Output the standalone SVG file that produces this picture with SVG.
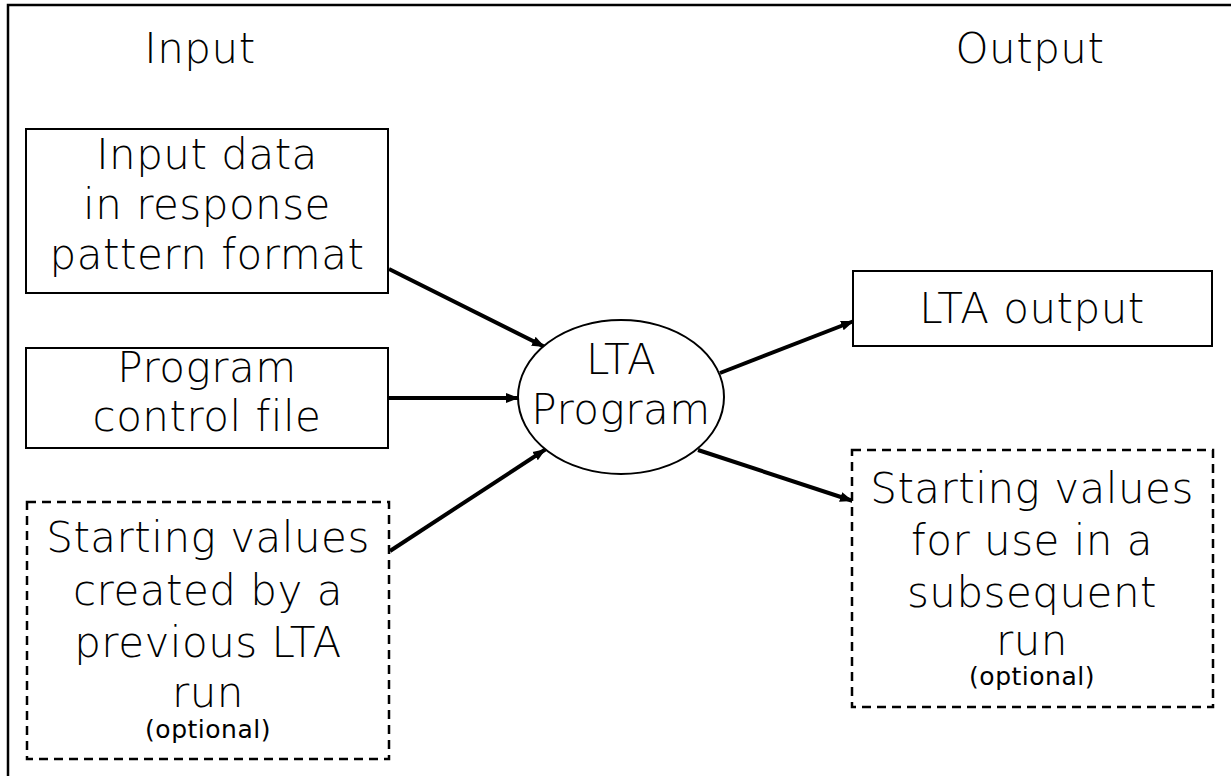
<svg xmlns="http://www.w3.org/2000/svg" width="1231" height="776" viewBox="0 0 1231 776">
  <style>
    text { font-family: "DejaVu Sans", "Liberation Sans", sans-serif; font-weight: 200; fill: #000; text-anchor: middle; font-size: 42px; letter-spacing: 0.5px; }
    .small { font-size: 25px; letter-spacing: 0.5px; font-weight: normal; }
    .box { fill: #fff; stroke: #000; stroke-width: 2; }
    .dash { fill: #fff; stroke: #000; stroke-width: 2.5; stroke-dasharray: 9 6; }
    .conn { stroke: #000; stroke-width: 4; fill: none; marker-end: url(#arr); }
  </style>
  <defs>
    <marker id="arr" markerUnits="userSpaceOnUse" markerWidth="14" markerHeight="12" refX="13" refY="6" orient="auto">
      <path d="M0,1 L13,6 L0,11 Z" fill="#000"/>
    </marker>
  </defs>
  <rect x="0" y="0" width="1231" height="776" fill="#fff"/>
  <rect x="8" y="5" width="1240" height="800" fill="none" stroke="#000" stroke-width="2.5"/>

  <g id="heading-input"><text x="200" y="63">Input</text></g>
  <g id="heading-output"><text x="1030" y="63">Output</text></g>

  <g id="connectors">
    <line class="conn" x1="389" y1="269" x2="545" y2="347"/>
    <line class="conn" x1="389" y1="398" x2="519" y2="398"/>
    <line class="conn" x1="390" y1="551" x2="546" y2="449"/>
    <line class="conn" x1="720" y1="373" x2="854" y2="321"/>
    <line class="conn" x1="698" y1="450" x2="853" y2="501"/>
  </g>

  <g id="node-input-data">
    <rect class="box" x="26" y="129" width="362" height="164"/>
    <text x="207" y="169">Input data</text>
    <text x="207" y="219">in response</text>
    <text x="207" y="269">pattern format</text>
  </g>

  <g id="node-control-file">
    <rect class="box" x="26" y="348" width="362" height="100"/>
    <text x="207" y="382">Program</text>
    <text x="207" y="431">control file</text>
  </g>

  <g id="node-starting-in">
    <rect class="dash" x="27" y="502" width="362" height="257"/>
    <text x="208" y="552">Starting values</text>
    <text x="208" y="605">created by a</text>
    <text x="208" y="657">previous LTA</text>
    <text x="208" y="707">run</text>
    <text class="small" x="208" y="738">(optional)</text>
  </g>

  <g id="node-lta-program">
    <ellipse cx="621" cy="397" rx="103" ry="77" fill="#fff" stroke="#000" stroke-width="2"/>
    <text x="621" y="374">LTA</text>
    <text x="621" y="424">Program</text>
  </g>

  <g id="node-lta-output">
    <rect class="box" x="853" y="271" width="359" height="75"/>
    <text x="1032" y="323">LTA output</text>
  </g>

  <g id="node-starting-out">
    <rect class="dash" x="852" y="450" width="361" height="257"/>
    <text x="1032" y="503">Starting values</text>
    <text x="1032" y="555">for use in a</text>
    <text x="1032" y="607">subsequent</text>
    <text x="1032" y="655">run</text>
    <text class="small" x="1032" y="685">(optional)</text>
  </g>
</svg>
